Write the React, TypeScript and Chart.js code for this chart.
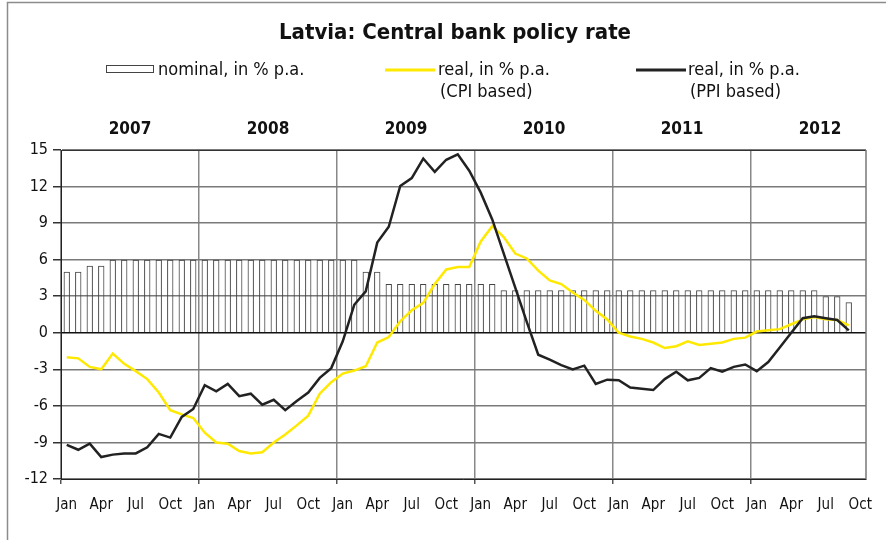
import React, { useEffect, useRef } from "react";
import { Chart, registerables } from "chart.js";

Chart.register(...registerables);

const TITLE = "Latvia: Central bank policy rate";
const YEARS = ["2007", "2008", "2009", "2010", "2011", "2012"];
const MONTHS = ["Jan", "Feb", "Mar", "Apr", "May", "Jun", "Jul", "Aug", "Sep", "Oct", "Nov", "Dec"];
const LAST_YEAR_MONTHS = 10; // Jan..Oct 2012
const CATEGORIES: string[] = [];
YEARS.forEach((y, yi) => {
  const n = yi === YEARS.length - 1 ? LAST_YEAR_MONTHS : 12;
  for (let m = 0; m < n; m++) CATEGORIES.push(MONTHS[m] + " " + y);
});

const NOMINAL_LABEL = "nominal, in % p.a.";
const CPI_LABEL = ["real, in % p.a.", "(CPI based)"];
const PPI_LABEL = ["real, in % p.a.", "(PPI based)"];

// nominal policy rate, % p.a.
const nominal = [
  5.0, 5.0, 5.5, 5.5, 6, 6, 6, 6, 6, 6, 6, 6,
  6, 6, 6, 6, 6, 6, 6, 6, 6, 6, 6, 6,
  6, 6, 5, 5, 4, 4, 4, 4, 4, 4, 4, 4,
  4, 4, 3.5, 3.5, 3.5, 3.5, 3.5, 3.5, 3.5, 3.5, 3.5, 3.5,
  3.5, 3.5, 3.5, 3.5, 3.5, 3.5, 3.5, 3.5, 3.5, 3.5, 3.5, 3.5,
  3.5, 3.5, 3.5, 3.5, 3.5, 3.5, 3.0, 3.0, 2.5, null,
];

// real rate, CPI based
const realCPI = [
  -2.0, -2.1, -2.8, -3.0, -1.7, -2.55, -3.15, -3.8, -4.9, -6.35, -6.7, -7.0,
  -8.2, -9.0, -9.1, -9.7, -9.9, -9.8, -9.0, -8.35, -7.6, -6.8, -5.0, -4.05,
  -3.35, -3.1, -2.75, -0.8, -0.35, 0.95, 1.85, 2.45, 4.0, 5.2, 5.4, 5.4,
  7.5, 8.75, 7.85, 6.5, 6.1, 5.1, 4.3, 4.0, 3.3, 2.7, 1.8, 1.1,
  0.0, -0.3, -0.5, -0.8, -1.25, -1.1, -0.7, -1.0, -0.9, -0.8, -0.5, -0.4,
  0.1, 0.2, 0.3, 0.7, 1.1, 1.3, 1.1, 1.05, 0.6, null,
];

// real rate, PPI based
const realPPI = [
  -9.2, -9.6, -9.1, -10.2, -10.0, -9.9, -9.9, -9.4, -8.3, -8.6, -6.9, -6.25,
  -4.3, -4.8, -4.2, -5.2, -5.0, -5.9, -5.5, -6.35, -5.6, -4.9, -3.7, -2.9,
  -0.7, 2.3, 3.4, 7.4, 8.7, 12.05, 12.7, 14.3, 13.2, 14.2, 14.65, 13.3,
  11.5, 9.3, 6.5, 3.7, 0.9, -1.8, -2.2, -2.65, -3.0, -2.7, -4.2, -3.85,
  -3.9, -4.5, -4.6, -4.7, -3.8, -3.2, -3.9, -3.7, -2.9, -3.2, -2.8, -2.6,
  -3.15, -2.4, -1.2, 0.0, 1.2, 1.35, 1.2, 1.05, 0.2, null,
];

const Y_MIN = -12;
const Y_MAX = 15;
const Y_STEP = 3;

const FONT = '"Liberation Sans Narrow", "Arial Narrow", "DejaVu Sans Condensed", "Liberation Sans", sans-serif';
const YELLOW = "#ffe900";
const BLACK = "#222222";

const decorPlugin = {
  id: "decor",
  afterDraw(chart: any) {
    const ctx = chart.ctx as CanvasRenderingContext2D;
    const a = chart.chartArea;
    const x = chart.scales.x;
    ctx.save();
    // outer frame
    ctx.strokeStyle = "#8c8c8c";
    ctx.lineWidth = 1.5;
    ctx.beginPath();
    ctx.moveTo(7.5, 540);
    ctx.lineTo(7.5, 2.5);
    ctx.lineTo(886, 2.5);
    ctx.stroke();
    // plot area top and right
    ctx.lineWidth = 1;
    ctx.strokeStyle = "#333";
    ctx.beginPath();
    ctx.moveTo(a.left, Math.round(a.top) + 0.5);
    ctx.lineTo(a.right, Math.round(a.top) + 0.5);
    ctx.stroke();
    ctx.strokeStyle = "#777";
    ctx.lineWidth = 1.5;
    ctx.beginPath();
    ctx.moveTo(a.right, a.top);
    ctx.lineTo(a.right, a.bottom);
    ctx.stroke();

    // title
    ctx.fillStyle = "#111";
    ctx.textAlign = "center";
    ctx.textBaseline = "middle";
    ctx.font = `bold 22px ${FONT}`;
    ctx.fillText(TITLE, 455, 33);

    // legend
    ctx.font = `18px ${FONT}`;
    ctx.textAlign = "left";
    ctx.strokeStyle = "#444";
    ctx.lineWidth = 1;
    ctx.strokeRect(106.5, 65.5, 47, 7);
    ctx.fillText(NOMINAL_LABEL, 158, 70);
    ctx.lineWidth = 3;
    ctx.strokeStyle = YELLOW;
    ctx.beginPath();
    ctx.moveTo(385, 70);
    ctx.lineTo(435, 70);
    ctx.stroke();
    ctx.fillText(CPI_LABEL[0], 438, 70);
    ctx.fillText(CPI_LABEL[1], 440, 92);
    ctx.strokeStyle = BLACK;
    ctx.beginPath();
    ctx.moveTo(636, 70);
    ctx.lineTo(686, 70);
    ctx.stroke();
    ctx.fillText(PPI_LABEL[0], 688, 70);
    ctx.fillText(PPI_LABEL[1], 690, 92);

    // year labels
    ctx.font = `bold 17px ${FONT}`;
    ctx.textAlign = "center";
    YEARS.forEach((y, k) => {
      const first = x.getPixelForValue(12 * k);
      const step = x.getPixelForValue(12 * k + 1) - first;
      const cx = first + step * 5.5;
      ctx.fillText(y, cx, 130);
    });
    ctx.restore();
  },
};

export default function App() {
  const ref = useRef<HTMLCanvasElement>(null);
  useEffect(() => {
    if (!ref.current) return;
    const chart = new Chart(ref.current, {
      type: "bar",
      data: {
        labels: CATEGORIES,
        datasets: [
          {
            type: "line",
            label: PPI_LABEL.join(" "),
            data: realPPI,
            borderColor: BLACK,
            backgroundColor: BLACK,
            borderWidth: 2.5,
            pointRadius: 0,
            tension: 0,
            order: 0,
          },
          {
            type: "line",
            label: CPI_LABEL.join(" "),
            data: realCPI,
            borderColor: YELLOW,
            backgroundColor: YELLOW,
            borderWidth: 2.5,
            pointRadius: 0,
            tension: 0,
            order: 1,
          },
          {
            type: "bar",
            label: NOMINAL_LABEL,
            data: nominal,
            backgroundColor: "rgba(255,255,255,0)",
            borderColor: "#444",
            borderWidth: 1,
            barPercentage: 0.55,
            categoryPercentage: 1,
            order: 2,
          },
        ],
      },
      options: {
        responsive: false,
        animation: false,
        devicePixelRatio: 1,
        layout: { padding: { top: 150, right: 20, bottom: 21, left: 0 } },
        plugins: {
          legend: { display: false },
          title: { display: false },
          tooltip: { enabled: false },
        },
        scales: {
          x: {
            offset: true,
            grid: {
              offset: true,
              drawOnChartArea: true,
              color: (c: any) => (c.index % 12 === 0 ? "#888" : "rgba(0,0,0,0)"),
              tickColor: (c: any) => (c.index % 12 === 0 ? "#555" : "rgba(0,0,0,0)"),
              lineWidth: 1.5,
              tickLength: 5,
            },
            border: { display: true, color: "#222", width: 1 },
            ticks: {
              autoSkip: false,
              maxRotation: 0,
              minRotation: 0,
              padding: 12,
              color: "#111",
              font: { family: FONT, size: 15 },
              callback: (_v: any, i: number) => (i % 3 === 0 ? MONTHS[i % 12] : ""),
            },
            afterFit: (s: any) => {
              s.height = 40;
            },
          },
          y: {
            min: Y_MIN,
            max: Y_MAX,
            grid: {
              color: (c: any) => (c.tick && c.tick.value === 0 ? "#111" : "#7a7a7a"),
              lineWidth: 1.5,
              tickColor: "#333",
              tickLength: 8,
            },
            border: { display: true, color: "#222", width: 1 },
            ticks: {
              stepSize: Y_STEP,
              padding: 5,
              color: "#111",
              font: { family: FONT, size: 16 },
            },
            afterFit: (s: any) => {
              s.width = 61;
            },
          },
        },
      },
      plugins: [decorPlugin],
    });
    return () => chart.destroy();
  }, []);
  return (
    <div style={{ position: "absolute", left: 0, top: 0, width: 886, height: 540, background: "#fff" }}>
      <canvas ref={ref} width={886} height={540} style={{ display: "block" }} />
    </div>
  );
}
